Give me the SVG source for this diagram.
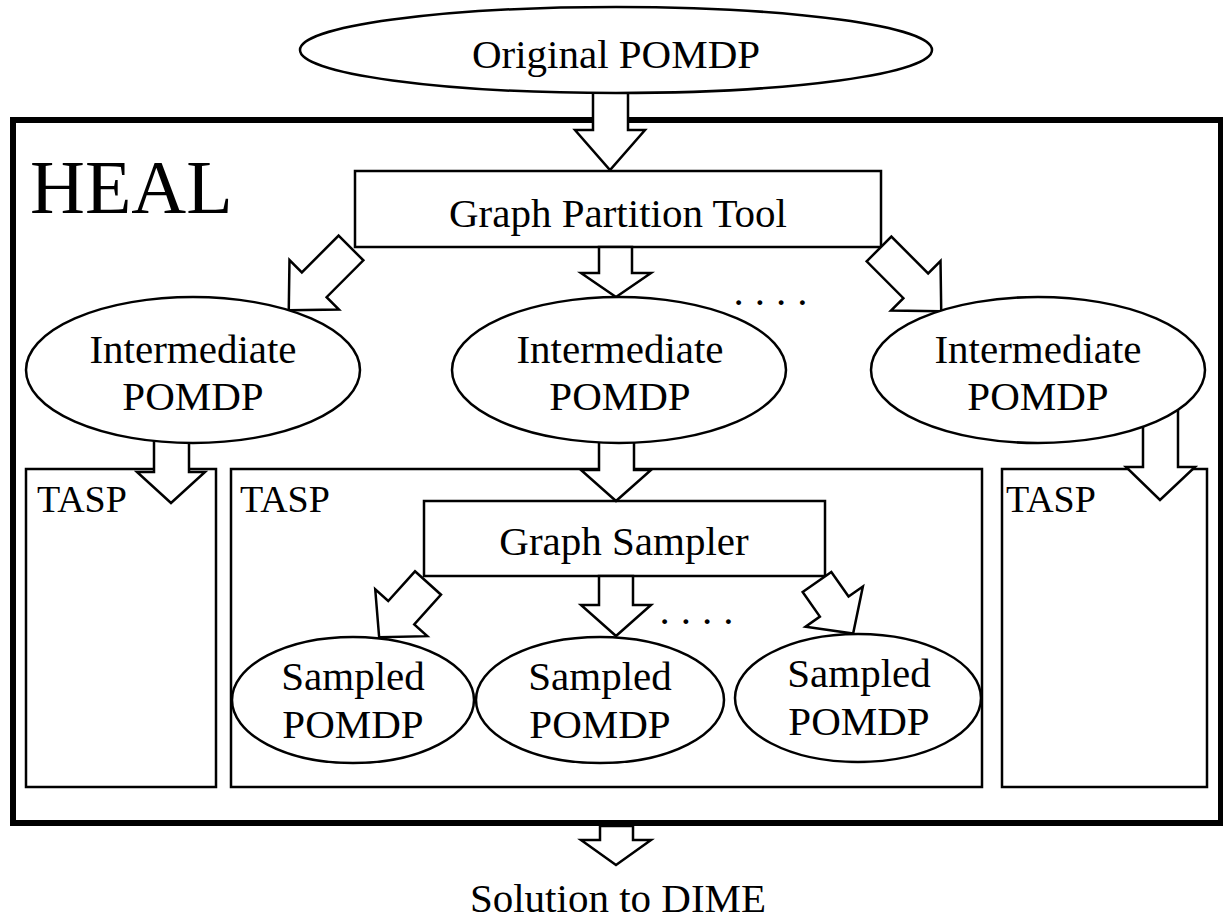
<svg xmlns="http://www.w3.org/2000/svg" width="1223" height="919" viewBox="0 0 1223 919">
<style>
.box{fill:#fff;stroke:#000;stroke-width:2.5}
.ell{fill:#fff;stroke:#000;stroke-width:2.5}
.arr{fill:#fff;stroke:#000;stroke-width:2.5;stroke-linejoin:miter}
.t{font-family:"Liberation Serif","Times New Roman",serif;font-size:41px;fill:#000;text-anchor:middle}
.l{font-family:"Liberation Serif","Times New Roman",serif;font-size:38px;fill:#000}
</style>
<defs>
<path id="arrS" d="M -17.5 0 L 17.5 0 L 17.5 52 L 35 52 L 0 88 L -35 52 L -17.5 52 Z"/>
<path id="arrL" d="M -17.5 0 L 17.5 0 L 17.5 40 L 35 40 L 0 73 L -35 40 L -17.5 40 Z"/>
<path id="arrR" d="M -17.5 0 L 17.5 0 L 17.5 30 L 35 30 L 0 63 L -35 30 L -17.5 30 Z"/>
</defs>
<rect width="1223" height="919" fill="#fff"/>

<g id="heal">
<rect x="13" y="120" width="1208" height="703" fill="#fff" stroke="#000" stroke-width="6"/>
<text x="30" y="213" font-family="'Liberation Serif','Times New Roman',serif" font-size="76">HEAL</text>
</g>

<g id="tasp-left">
<rect class="box" x="26" y="469" width="190" height="318"/>
<text class="l" x="37" y="512">TASP</text>
</g>
<g id="tasp-middle">
<rect class="box" x="231" y="469" width="751" height="318"/>
<text class="l" x="240" y="512">TASP</text>
</g>
<g id="tasp-right">
<rect class="box" x="1002" y="469" width="205" height="318"/>
<text class="l" x="1006" y="512">TASP</text>
</g>

<g id="graph-partition-tool">
<rect class="box" x="355" y="171" width="526" height="76"/>
<text class="t" x="618" y="227">Graph Partition Tool</text>
</g>

<g id="graph-sampler">
<rect class="box" x="424" y="501" width="401" height="75"/>
<text class="t" x="624" y="555">Graph Sampler</text>
</g>

<g id="connectors">
<polygon class="arr" points="593,85 628,85 628,130 645,130 610,170 575,130 593,130"/>
<polygon class="arr" points="599,247 632,247 632,273 651,273 616,297 581,273 599,273"/>
<use href="#arrS" class="arr" transform="translate(351,248) rotate(45)"/>
<use href="#arrS" class="arr" transform="translate(879,249) rotate(-45)"/>
<polygon class="arr" points="154,440 189,440 189,472 205,472 171,503 137,472 154,472"/>
<polygon class="arr" points="599,440 634,440 634,470 651,470 616,501 581,470 599,470"/>
<polygon class="arr" points="1143,400 1178,400 1178,467 1195,467 1160,500 1126,467 1143,467"/>
<polygon class="arr" points="599,576 633,576 633,605 651,605 616,636 581,605 599,605"/>
<use href="#arrL" class="arr" transform="translate(428,583) rotate(42)"/>
<use href="#arrR" class="arr" transform="translate(817,582) rotate(-35)"/>
<polygon class="arr" points="600,826 633,826 633,840 651,840 616,865 581,840 600,840"/>
<text class="t" x="776" y="305" letter-spacing="11">....</text>
<text class="t" x="702" y="624" letter-spacing="11">....</text>
</g>

<g id="original-pomdp">
<ellipse class="ell" cx="616" cy="50" rx="316" ry="43"/>
<text class="t" x="616" y="68">Original POMDP</text>
</g>

<g id="intermediate-left">
<ellipse class="ell" cx="193" cy="370" rx="167" ry="73"/>
<text class="t" x="193" y="363">Intermediate</text>
<text class="t" x="193" y="410">POMDP</text>
</g>
<g id="intermediate-middle">
<ellipse class="ell" cx="619" cy="370" rx="167" ry="73"/>
<text class="t" x="620" y="363">Intermediate</text>
<text class="t" x="620" y="410">POMDP</text>
</g>
<g id="intermediate-right">
<ellipse class="ell" cx="1038" cy="370" rx="167" ry="73"/>
<text class="t" x="1038" y="363">Intermediate</text>
<text class="t" x="1038" y="410">POMDP</text>
</g>

<g id="sampled-left">
<ellipse class="ell" cx="353" cy="700" rx="121" ry="63"/>
<text class="t" x="353" y="690">Sampled</text>
<text class="t" x="353" y="738">POMDP</text>
</g>
<g id="sampled-middle">
<ellipse class="ell" cx="600" cy="700" rx="124" ry="63"/>
<text class="t" x="600" y="690">Sampled</text>
<text class="t" x="600" y="738">POMDP</text>
</g>
<g id="sampled-right">
<ellipse class="ell" cx="858" cy="698" rx="123" ry="64"/>
<text class="t" x="859" y="687">Sampled</text>
<text class="t" x="859" y="735">POMDP</text>
</g>

<g id="solution">
<text class="t" x="618" y="912">Solution to DIME</text>
</g>
</svg>
